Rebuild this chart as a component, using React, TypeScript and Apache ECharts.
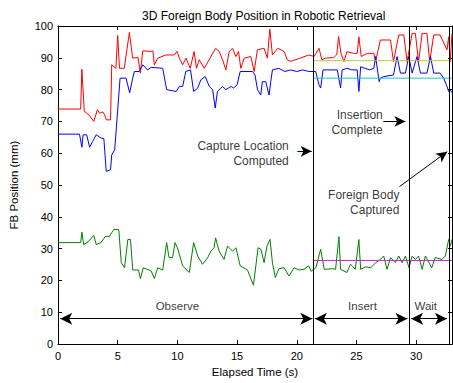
import React, { useEffect, useRef } from "react";
import * as echarts from "echarts";

const FONT = "'Liberation Sans', Arial, Helvetica, sans-serif";

// Elapsed time (s) and FB position (mm) per coordinate
const redT = [0, 1.9, 2.0, 2.2, 2.6, 3.0, 3.3, 3.5, 3.75, 3.9, 4.05, 4.4, 4.5, 4.85, 5.0, 5.15, 5.55, 5.98, 6.25, 6.7, 6.9, 7.1, 7.8, 7.95, 8.07, 8.35, 9.05, 9.75, 9.97, 10.16, 10.44, 10.72, 11.08, 11.4, 11.6, 11.83, 12.25, 13.2, 13.5, 13.78, 14.06, 14.34, 14.62, 14.9, 15.12, 15.31, 15.6, 16.15, 16.43, 16.7, 17.26, 17.54, 17.74, 17.96, 18.4, 18.94, 19.2, 19.5, 20.3, 21.0, 21.45, 21.86, 22.1, 22.4, 23.1, 23.35, 23.5, 23.7, 23.95, 24.2, 24.78, 25.06, 25.2, 25.4, 25.9, 26.45, 26.6, 27.0, 27.85, 28.1, 28.54, 28.96, 29.24, 29.66, 29.93, 30.2, 30.5, 30.9, 31.13, 31.47, 32.0, 32.58, 32.72, 32.86, 33.0];
const redV = [73.9, 73.9, 86.4, 73.2, 72.0, 70.0, 73.7, 72.6, 73.0, 72.1, 70.5, 70.5, 87.8, 86.7, 97.0, 86.7, 86.7, 98.0, 89.9, 90.1, 85.2, 92.2, 92.0, 92.2, 87.8, 89.9, 90.9, 90.9, 92.0, 89.9, 87.8, 89.9, 86.7, 92.0, 86.7, 89.4, 86.7, 93.0, 92.0, 89.4, 86.2, 92.0, 93.0, 90.4, 92.0, 86.7, 89.9, 90.4, 85.7, 92.5, 93.0, 89.9, 99.0, 90.9, 93.0, 92.0, 89.4, 88.9, 89.9, 90.9, 90.4, 93.0, 89.4, 89.9, 90.1, 91.0, 96.7, 91.4, 88.8, 91.9, 91.4, 91.4, 96.6, 90.4, 91.4, 91.4, 88.8, 95.6, 95.6, 88.8, 97.2, 97.2, 88.8, 97.7, 97.7, 88.8, 97.7, 97.7, 88.8, 97.2, 97.2, 92.5, 96.6, 88.8, 97.7];

const blueT = [0, 1.8, 2.0, 2.1, 2.4, 2.65, 2.9, 3.2, 3.6, 3.84, 4.04, 4.4, 4.5, 4.75, 5.2, 5.7, 6.0, 6.26, 6.4, 6.8, 7.1, 7.5, 7.8, 8.77, 9.1, 9.9, 10.16, 10.44, 10.7, 11.1, 11.36, 11.7, 11.97, 12.33, 12.67, 12.95, 13.17, 13.35, 13.78, 14.06, 14.5, 14.7, 15.0, 15.26, 16.3, 16.5, 16.71, 16.98, 17.12, 17.4, 17.68, 17.82, 17.96, 18.5, 19.0, 19.5, 20.0, 20.5, 21.0, 21.58, 21.86, 22.0, 22.2, 23.39, 23.67, 23.8, 24.2, 24.6, 25.06, 25.2, 25.35, 25.7, 26.1, 26.45, 26.6, 26.9, 27.0, 27.3, 28.1, 28.4, 28.68, 29.1, 29.38, 29.66, 30.07, 30.35, 30.9, 31.2, 31.47, 32.0, 32.3, 32.58, 32.72, 32.86, 33.0];
const blueV = [66.0, 66.0, 61.9, 65.8, 65.8, 61.9, 63.7, 65.8, 64.8, 64.6, 54.3, 54.8, 59.5, 61.1, 83.6, 83.6, 79.0, 83.6, 85.7, 85.7, 87.8, 86.2, 87.0, 86.7, 80.0, 79.4, 81.0, 81.0, 85.7, 86.2, 79.4, 80.5, 83.1, 84.1, 81.0, 80.0, 74.2, 79.4, 81.0, 80.0, 81.0, 80.5, 81.5, 85.7, 85.7, 84.6, 80.0, 78.3, 82.5, 82.5, 78.3, 82.5, 86.2, 86.7, 85.7, 86.2, 85.7, 86.2, 85.7, 85.7, 81.5, 80.5, 86.2, 86.2, 80.5, 86.2, 86.7, 86.2, 86.2, 79.4, 87.2, 86.7, 86.2, 86.7, 90.4, 82.5, 83.6, 84.1, 84.6, 90.4, 85.2, 85.2, 90.4, 85.2, 90.4, 85.2, 85.2, 90.4, 85.2, 85.2, 83.6, 81.0, 79.4, 79.9, 79.0];

const greenT = [0, 1.9, 2.0, 2.15, 2.5, 3.0, 3.2, 3.6, 3.95, 4.3, 4.67, 5.09, 5.3, 5.57, 5.85, 6.07, 6.26, 6.74, 6.9, 7.15, 7.8, 8.07, 8.35, 8.77, 9.1, 9.3, 9.6, 9.8, 10.0, 10.44, 11.0, 11.36, 11.7, 12.1, 12.5, 12.8, 13.07, 13.2, 13.5, 13.9, 14.2, 14.62, 14.9, 15.26, 15.87, 16.37, 16.76, 17.0, 17.26, 17.5, 17.76, 17.96, 18.2, 18.5, 18.94, 19.35, 19.77, 20.2, 20.6, 20.99, 21.2, 21.6, 22.0, 22.3, 23.0, 23.25, 23.53, 23.67, 24.2, 24.5, 24.9, 25.2, 25.35, 25.77, 26.2, 26.6, 27.0, 27.28, 27.56, 27.85, 28.26, 28.54, 28.82, 29.1, 29.4, 29.66, 29.93, 30.2, 30.5, 30.77, 31.3, 31.6, 32.15, 32.44, 32.72, 32.86, 33.0];
const greenV = [31.9, 31.9, 35.2, 31.3, 32.1, 34.2, 31.3, 31.9, 33.8, 33.8, 36.0, 36.0, 25.6, 24.0, 32.9, 32.9, 23.3, 23.3, 20.6, 24.0, 23.0, 20.6, 24.0, 23.3, 31.9, 27.2, 27.2, 31.9, 30.3, 24.6, 22.5, 31.9, 27.7, 25.1, 26.9, 29.2, 30.3, 33.4, 29.2, 26.6, 30.8, 29.2, 30.3, 24.6, 23.3, 18.5, 30.3, 29.8, 25.6, 30.8, 32.9, 25.6, 20.9, 23.7, 24.0, 21.4, 24.0, 23.3, 23.5, 24.6, 22.9, 24.0, 29.8, 23.5, 23.7, 23.5, 33.8, 23.5, 22.5, 25.1, 23.5, 32.9, 23.5, 24.3, 24.0, 25.6, 26.6, 27.7, 23.5, 27.2, 25.6, 27.7, 25.6, 27.7, 24.0, 27.7, 26.6, 27.7, 23.5, 27.7, 24.0, 27.2, 26.6, 27.7, 32.9, 30.8, 32.9];

// Reference levels drawn from capture-location time to end
const refStart = 21.45;
const refEnd = 33.0;
const yellowLevel = 89.1;
const cyanLevel = 83.6;
const magentaLevel = 26.3;

// Phase boundaries (s)
const phaseLines = [21.4, 29.4, 32.8];

// Phase arrows [from, to] at height 8
const phaseArrowY = 8;
const phaseArrows = [
  [0.19, 21.3],
  [21.52, 29.27],
  [29.57, 32.58],
];
const phaseLabels = ["Observe", "Insert", "Wait"];
const phaseLabelX = [10.0, 25.5, 30.8];
const phaseLabelY = 12;

// Callout annotations
const callouts = [
  { text: "Capture Location\nComputed", t: 19.33, v: 60.05, from: [20.05, 60.6], to: [21.25, 60.6] },
  { text: "Insertion\nComplete", t: 27.2, v: 69.75, from: [27.25, 70.0], to: [29.1, 70.0] },
  { text: "Foreign Body\nCaptured", t: 28.6, v: 44.65, from: [28.6, 49.5], to: [32.6, 60.5] },
];

const xTicks = { min: 0, max: 33, interval: 5 };
const yTicks = { min: 0, max: 100, interval: 10 };

function zip(t: number[], v: number[]) {
  return t.map((x, i) => [x, v[i]]);
}

export default function App() {
  const ref = useRef<HTMLDivElement>(null);
  useEffect(() => {
    const chart = echarts.init(ref.current!, null, { renderer: "svg" });
    const axisCommon = {
      type: "value" as const,
      axisLine: { show: true, onZero: false, lineStyle: { color: "#000", width: 1 } },
      axisTick: { show: true, inside: true, length: 4, lineStyle: { color: "#000" } },
      splitLine: { show: false },
    };
    const tickStyle = { color: "#000", fontSize: 11, fontFamily: FONT };
    const textStyle = { color: "#000", fontSize: 12, fontFamily: FONT };
    const nameStyle = { color: "#000", fontSize: 11.5, fontFamily: FONT };
    const lineSeries = (name: string, data: number[][], color: string) => ({
      name,
      type: "line",
      data,
      showSymbol: false,
      symbol: "none",
      lineStyle: { color, width: 1 },
      itemStyle: { color },
      silent: true,
      z: 2,
    });
    chart.setOption({
      animation: false,
      title: {
        text: "3D Foreign Body Position in Robotic Retrieval",
        left: 137,
        top: 5,
        textStyle: { ...textStyle, fontWeight: "normal" },
      },
      grid: { left: 57, right: 1, top: 26, bottom: 38 },
      xAxis: [
        {
          ...axisCommon,
          ...xTicks,
          position: "bottom",
          axisLabel: { ...tickStyle, margin: 6, showMaxLabel: false },
          name: "Elapsed Time (s)",
          nameLocation: "middle",
          nameGap: 20,
          nameTextStyle: nameStyle,
        },
        { ...axisCommon, ...xTicks, position: "top", axisLabel: { show: false } },
      ],
      yAxis: [
        {
          ...axisCommon,
          ...yTicks,
          position: "left",
          axisLabel: { ...tickStyle, margin: 5 },
          name: "FB Position (mm)",
          nameLocation: "middle",
          nameGap: 38,
          nameTextStyle: nameStyle,
        },
        { ...axisCommon, ...yTicks, position: "right", axisLabel: { show: false } },
      ],
      series: [
        lineSeries("x", zip(redT, redV), "#ff0000"),
        lineSeries("y", zip(blueT, blueV), "#0000ff"),
        lineSeries("z", zip(greenT, greenV), "#008000"),
        lineSeries("xRef", [[refStart, yellowLevel], [refEnd, yellowLevel]], "#c4c43c"),
        lineSeries("yRef", [[refStart, cyanLevel], [refEnd, cyanLevel]], "#20c0c8"),
        {
          ...lineSeries("zRef", [[refStart, magentaLevel], [refEnd, magentaLevel]], "#d020d0"),
          markLine: {
            silent: true,
            symbol: "none",
            label: { show: false },
            lineStyle: { color: "#000", width: 1, type: "solid" },
            data: phaseLines.map((x) => ({ xAxis: x })),
          },
        },
        {
          type: "scatter",
          silent: true,
          symbolSize: 1,
          itemStyle: { color: "rgba(0,0,0,0)" },
          z: 5,
          data: [
            ...phaseLabels.map((txt, i) => ({
              value: [phaseLabelX[i], phaseLabelY],
              label: { show: true, position: "inside", formatter: txt, align: "center", verticalAlign: "middle", ...nameStyle },
            })),
            ...callouts.map((c) => ({
              value: [c.t, c.v],
              label: { show: true, position: "inside", formatter: c.text, align: "right", verticalAlign: "middle", lineHeight: 15, ...textStyle },
            })),
          ],
          markLine: {
            silent: true,
            symbol: ["arrow", "arrow"],
            symbolSize: [9, 12],
            label: { show: false },
            lineStyle: { color: "#000", width: 1, type: "solid" },
            itemStyle: { color: "#000" },
            data: [
              ...phaseArrows.map(([a, b]) => [
                { coord: [a, phaseArrowY] },
                { coord: [b, phaseArrowY] },
              ]),
              ...callouts.map((c) => [
                { coord: c.from, symbol: "none" },
                { coord: c.to, symbol: "arrow", symbolSize: [8, 11] },
              ]),
            ],
          },
        },
      ],
    });
    return () => chart.dispose();
  }, []);
  return (
    <div
      ref={ref}
      style={{ position: "fixed", left: 0, top: 0, width: 453, height: 383, background: "#fff" }}
    />
  );
}
